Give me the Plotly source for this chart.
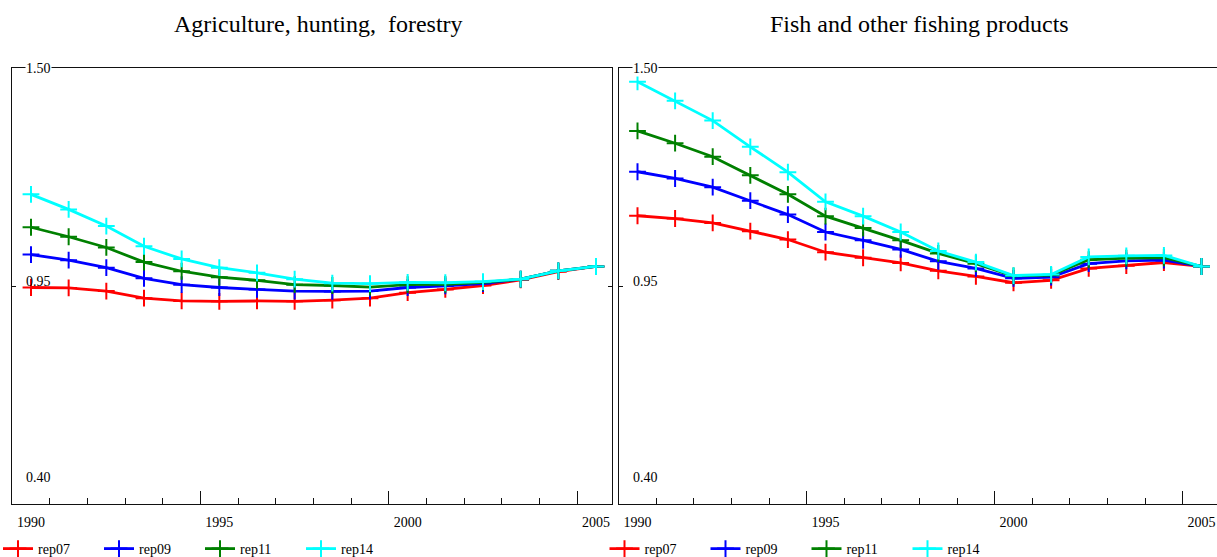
import plotly.graph_objects as go

W, H = 1217, 557

years = list(range(1990, 2006))
series_names = ["rep07", "rep09", "rep11", "rep14"]
colors = ["#ff0000", "#0000ff", "#008000", "#00ffff"]

# Agriculture, hunting, forestry
agri_rep07 = [0.947, 0.946, 0.938, 0.920, 0.913, 0.912, 0.913, 0.912, 0.915, 0.920, 0.934, 0.942, 0.952, 0.966, 0.987, 1.000]
agri_rep09 = [1.030, 1.016, 0.997, 0.970, 0.954, 0.947, 0.942, 0.938, 0.937, 0.938, 0.947, 0.951, 0.957, 0.968, 0.989, 1.000]
agri_rep11 = [1.099, 1.075, 1.048, 1.011, 0.988, 0.973, 0.965, 0.954, 0.952, 0.948, 0.954, 0.955, 0.960, 0.968, 0.989, 1.000]
agri_rep14 = [1.182, 1.144, 1.102, 1.051, 1.019, 0.997, 0.984, 0.968, 0.958, 0.957, 0.960, 0.959, 0.962, 0.968, 0.989, 1.000]

# Fish and other fishing products
fish_rep07 = [1.128, 1.121, 1.110, 1.089, 1.068, 1.036, 1.022, 1.009, 0.989, 0.975, 0.959, 0.965, 0.995, 1.002, 1.010, 1.000]
fish_rep09 = [1.239, 1.222, 1.200, 1.166, 1.131, 1.087, 1.066, 1.043, 1.013, 0.995, 0.970, 0.973, 1.007, 1.014, 1.016, 1.000]
fish_rep11 = [1.342, 1.311, 1.277, 1.230, 1.182, 1.127, 1.097, 1.066, 1.033, 1.007, 0.976, 0.978, 1.017, 1.021, 1.022, 1.000]
fish_rep14 = [1.466, 1.418, 1.368, 1.302, 1.238, 1.163, 1.127, 1.087, 1.039, 1.011, 0.977, 0.980, 1.024, 1.027, 1.028, 1.000]

titles = ["Agriculture, hunting,\u00a0 forestry", "Fish and other fishing products"]
year_labels = [1990, 1995, 2000, 2005]
y_labels = [0.40, 0.95, 1.50]

FONT = "Liberation Serif, Times New Roman, Times, DejaVu Serif, serif"

fig = go.Figure()

panels = [
    ([agri_rep07, agri_rep09, agri_rep11, agri_rep14], "x", "y", "legend"),
    ([fish_rep07, fish_rep09, fish_rep11, fish_rep14], "x2", "y2", "legend2"),
]
for vals_list, xa, ya, lg in panels:
    for name, col, vals in zip(series_names, colors, vals_list):
        fig.add_trace(go.Scatter(
            x=years, y=vals, name=name, mode="lines+markers",
            xaxis=xa, yaxis=ya, legend=lg,
            line=dict(color=col, width=2.8),
            marker=dict(symbol="cross-thin", size=12, line=dict(color=col, width=2), color=col),
            hoverinfo="x+y+name",
        ))

# dummy traces for label overlay axes
fig.add_trace(go.Scatter(x=[1990], y=[None], xaxis="x3", yaxis="y", showlegend=False, hoverinfo="skip"))
fig.add_trace(go.Scatter(x=[1990], y=[None], xaxis="x4", yaxis="y2", showlegend=False, hoverinfo="skip"))

ytop, ybot = 68.3, 504.3
ydom = [1 - ybot / H, 1 - ytop / H]

x1dom = [12.3 / W, 612.3 / W]
x2dom = [619.0 / W, 1.0]
x1rng = [1989.504, 2005.433]
x2rng = [1989.508, 2005.412]

minor_vals = [y + 0.5 for y in years[:-1]]
major_vals = [1994.5, 1999.5, 2004.5]

def tick_axis(dom, rng, anchor):
    return dict(domain=dom, range=rng, anchor=anchor, showline=True, linecolor="#111", linewidth=1,
                mirror=True, showgrid=False, zeroline=False, tickmode="array", tickvals=major_vals,
                ticks="inside", ticklen=13, tickcolor="#111", tickwidth=1, showticklabels=False,
                automargin=False,
                minor=dict(tickmode="array", tickvals=minor_vals, ticks="inside", ticklen=6,
                           tickcolor="#111", tickwidth=1, showgrid=False))

def label_axis(over, rng, anchor):
    return dict(overlaying=over, range=rng, anchor=anchor, showline=False, showgrid=False, zeroline=False,
                tickmode="array", tickvals=year_labels, ticktext=[str(v) for v in year_labels], ticks="",
                automargin=False,
                ticklabelstandoff=8, tickfont=dict(family=FONT, size=14, color="#000"), side="bottom")

def y_axis(anchor, mirror):
    return dict(domain=ydom, range=[0.40, 1.50], anchor=anchor, showline=True, linecolor="#111", linewidth=1,
                mirror=mirror, showgrid=False, zeroline=False, tickmode="array", tickvals=y_labels,
                automargin=False,
                ticks="inside", ticklen=4, tickcolor="#111", showticklabels=False)

legend_common = dict(orientation="h", yanchor="middle", y=1 - 549.0 / H, xanchor="left",
                     font=dict(family=FONT, size=14, color="#000"), bgcolor="rgba(0,0,0,0)",
                     borderwidth=0, entrywidth=56, entrywidthmode="pixels", itemclick=False,
                     itemdoubleclick=False)

annotations = []
for i, (xref_dom, ttl, cx) in enumerate([("x domain", titles[0], 318.0), ("x2 domain", titles[1], 919.0)]):
    annotations.append(dict(text=ttl, xref="paper", yref="paper", x=cx / W, y=1 - 24 / H,
                            xanchor="center", yanchor="middle", showarrow=False,
                            font=dict(family=FONT, size=24, color="#000")))
    yref = "y" if i == 0 else "y2"
    shifts = {0.40: 27.0, 0.95: 5.0, 1.50: 0}
    for v in y_labels:
        annotations.append(dict(text=f"{v:.2f}", xref=xref_dom, yref=yref, x=0, y=v, xshift=12.5,
                                yshift=shifts[v], xanchor="left", yanchor="middle", showarrow=False,
                                bgcolor="white" if v == 1.50 else "rgba(0,0,0,0)", borderpad=0,
                                font=dict(family=FONT, size=14, color="#000")))

fig.update_layout(
    width=W, height=H, margin=dict(l=0, r=0, t=0, b=0, autoexpand=False),
    paper_bgcolor="white", plot_bgcolor="white",
    font=dict(family=FONT, size=14, color="#000"),
    xaxis=tick_axis(x1dom, x1rng, "y"),
    xaxis2=tick_axis(x2dom, x2rng, "y2"),
    xaxis3=label_axis("x", x1rng, "y"),
    xaxis4=label_axis("x2", x2rng, "y2"),
    yaxis=y_axis("x", "ticks"),
    yaxis2=y_axis("x2", False),
    legend=dict(legend_common, x=-2 / W),
    legend2=dict(legend_common, x=604.5 / W),
    annotations=annotations,
    showlegend=True,
)

fig.write_html(
    "out.html",
    config={"displayModeBar": False},
    post_script="document.documentElement.style.margin='0';document.body.style.margin='0';"
                "document.body.style.padding='0';document.body.style.overflow='hidden';",
)
